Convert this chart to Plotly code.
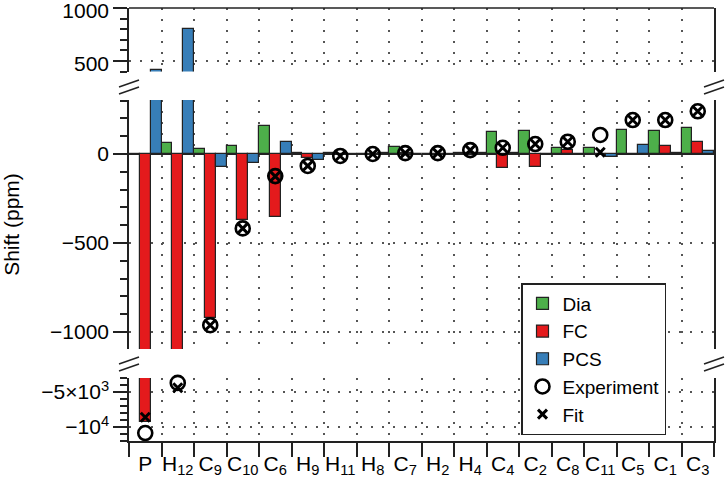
import plotly.graph_objects as go

# ---------------- data ----------------
categories = ["P", "H<sub>12</sub>", "C<sub>9</sub>", "C<sub>10</sub>", "C<sub>6</sub>",
              "H<sub>9</sub>", "H<sub>11</sub>", "H<sub>8</sub>", "C<sub>7</sub>",
              "H<sub>2</sub>", "H<sub>4</sub>", "C<sub>4</sub>", "C<sub>2</sub>",
              "C<sub>8</sub>", "C<sub>11</sub>", "C<sub>5</sub>", "C<sub>1</sub>", "C<sub>3</sub>"]
dia = [-8, 62, 26, 45, 157, 5, 3, 2, 41, 2, 8, 122, 131, 36, 32, 135, 129, 144]
fc = [-9300, -2000, -921, -371, -352, -24, -5, -3, 3, 2, 5, -77, -71, 22, 0, 2, 45, 69]
pcs = [415, 800, -75, -49, 69, -34, -3, 5, 0, -5, 4, 3, 2, 2, -15, 51, 3, 17]
experiment = [-10860, -3700, -962, -418, -124, -67, -11, 0, 5, 5, 22, 35, 56, 69, 107, 191, 191, 240]
fit = [-8600, -4400, -962, -418, -126, -67, -11, 0, 5, 5, 22, 35, 56, 69, 10, 191, 191, 240]

# y ranges of the three panels (bottom, middle, top)
range_bot = [-12000, -3000]
range_mid = [-1095.5, 303.4]
range_top = [400, 1000.01]

bot_ticks = [-10000, -5000]
bot_ticktext = ["\u221210<sup>4</sup>", "\u22125\u00d710<sup>3</sup>"]
mid_ticks = [-1000, -500, 0]
top_ticks = [500, 1000]

# ---------------- style ----------------
GREEN, RED, BLUE = "#4DAF4A", "#E41A1C", "#377EB8"
INK = "#222222"
FONT = "Liberation Sans, Arial, Helvetica, sans-serif"
W, H = 725, 482
L, R, T, B = 129, 11, 8, 41
PW, PH = W - L - R, H - T - B


def px2y(py):
    return (H - B - py) / PH


def px2x(px):
    return (px - L) / PW


def in_range(vals, rng):
    return [v if (v is not None and rng[0] <= v <= rng[1]) else None for v in vals]


fig = go.Figure()

panels = [("y2", range_mid, True), ("y", range_bot, False), ("y3", range_top, False)]
for yax, rng, legend in panels:
    for name, vals, col, og in [("Dia", dia, GREEN, "a"), ("FC", fc, RED, "b"), ("PCS", pcs, BLUE, "c")]:
        fig.add_trace(go.Bar(x=categories, y=vals, name=name, yaxis=yax, xaxis="x",
                             marker=dict(color=col, line=dict(color=INK, width=1.2)),
                             offsetgroup=og, showlegend=legend, legendgroup=name))
for yax, rng, legend in panels:
    fig.add_trace(go.Scatter(x=categories, y=in_range(experiment, rng), name="Experiment",
                             mode="markers", yaxis=yax, xaxis="x", cliponaxis=False,
                             marker=dict(symbol="circle-open", size=14, color="black",
                                         line=dict(width=2.6, color="black")),
                             showlegend=legend, legendgroup="exp"))
    fig.add_trace(go.Scatter(x=categories, y=in_range(fit, rng), name="Fit",
                             mode="markers", yaxis=yax, xaxis="x", cliponaxis=False,
                             marker=dict(symbol="x-thin-open", size=9, color="black",
                                         line=dict(width=3, color="black")),
                             showlegend=legend, legendgroup="fit"))

grid = dict(showgrid=True, gridcolor="#555555", gridwidth=1.5, griddash="1.5px,9.5px")
axis_common = dict(showline=True, linecolor=INK, linewidth=1.5, mirror=True,
                   ticks="outside", ticklen=14, tickwidth=1.5, tickcolor=INK,
                   tickfont=dict(family=FONT, size=21, color="black"),
                   zeroline=False, anchor="x", automargin=False, ticklabeloverflow="allow",
                   minor=dict(ticks="outside", ticklen=7, tickwidth=1.5, tickcolor=INK, showgrid=False),
                   **grid)

yb = dict(axis_common)
yb.update(domain=[0, px2y(378)], range=range_bot, tickmode="array", tickvals=bot_ticks,
          ticktext=bot_ticktext)
yb["minor"] = dict(axis_common["minor"], dtick=1000, tick0=0)

ym = dict(axis_common)
ym.update(domain=[px2y(349), px2y(100)], range=range_mid, tickmode="array", tickvals=mid_ticks,
          zeroline=True, zerolinecolor=INK, zerolinewidth=1.2,
          title=dict(text="Shift (ppm)", font=dict(family=FONT, size=21, color="black"), standoff=30))
ym["minor"] = dict(axis_common["minor"], dtick=100, tick0=0)

yt = dict(axis_common)
yt.update(domain=[px2y(71.6), 1], range=range_top, tickmode="array", tickvals=top_ticks,
          ticklabelshift=3)
yt["minor"] = dict(axis_common["minor"], dtick=100, tick0=0)

fig.update_layout(
    width=W, height=H,
    margin=dict(l=L, r=R, t=T, b=B, autoexpand=False),
    paper_bgcolor="white", plot_bgcolor="white",
    barmode="group", bargap=0, bargroupgap=0,
    font=dict(family=FONT, size=21, color="black"),
    xaxis=dict(type="category", anchor="y", domain=[0, 1], showline=True, linecolor=INK,
               linewidth=1.5, ticks="outside", ticklen=14, tickwidth=1.5, tickcolor=INK,
               tickson="boundaries", tickangle=0, automargin=False, ticklabelstandoff=3,
               tickfont=dict(family=FONT, size=21, color="black"),
               range=[-0.5, len(categories) - 0.5], zeroline=False, **grid),
    yaxis=yb, yaxis2=ym, yaxis3=yt,
    legend=dict(x=px2x(521), y=px2y(283), xanchor="left", yanchor="top",
                bgcolor="white", bordercolor=INK, borderwidth=1.5,
                font=dict(family=FONT, size=19, color="black"), traceorder="normal",
                tracegroupgap=0),
    showlegend=True,
)

# top border and axis-break marks (decoration)
shapes = [dict(type="line", xref="paper", yref="paper", x0=0, x1=1, y0=1, y1=1,
               line=dict(color=INK, width=1.5))]
for cy in (87, 364):
    for xc in (129, 714):
        for dy in (-3.5, 3.5):
            shapes.append(dict(type="line", xref="paper", yref="paper",
                               x0=px2x(xc - 10), x1=px2x(xc + 10),
                               y0=px2y(cy + dy + 3.5), y1=px2y(cy + dy - 3.5),
                               line=dict(color=INK, width=1.5)))
fig.update_layout(shapes=shapes)

fig.write_html("out.html", config={"displayModeBar": False},
               post_script="document.body.style.margin='0px';document.body.style.overflow='hidden';")
